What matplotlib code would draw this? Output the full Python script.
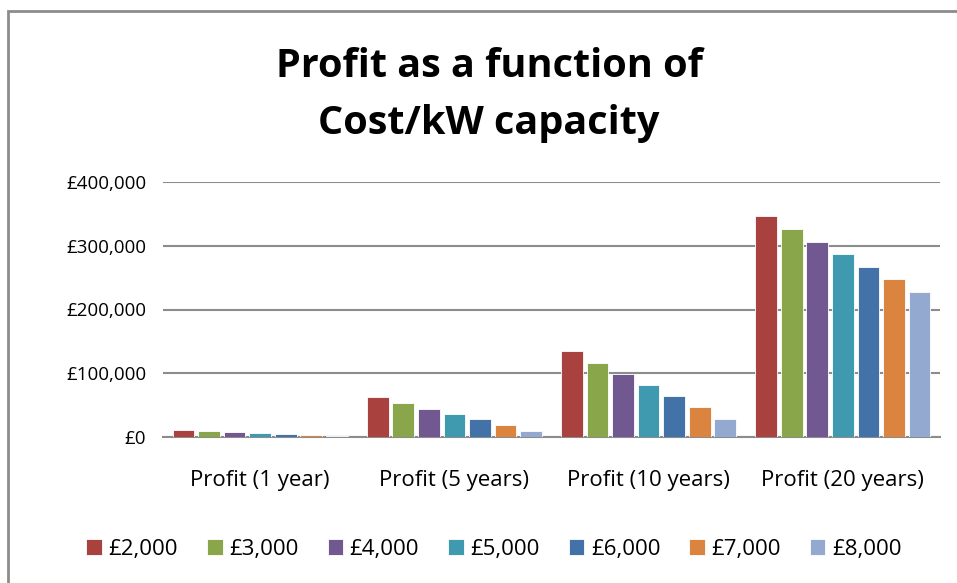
import numpy as np
import matplotlib.pyplot as plt
from matplotlib.patches import Rectangle

#---------data-----------
categories = ['Profit (1 year)', 'Profit (5 years)', 'Profit (10 years)', 'Profit (20 years)']
series = ['£2,000', '£3,000', '£4,000', '£5,000', '£6,000', '£7,000', '£8,000']
p2000 = [11000, 62000, 134500, 346500]
p3000 = [9500, 53500, 116500, 326000]
p4000 = [8000, 44500, 99500, 306000]
p5000 = [6500, 35500, 82000, 287000]
p6000 = [5000, 27500, 64500, 267000]
p7000 = [3500, 18500, 46500, 247500]
p8000 = [1500, 9500, 29000, 227000]
values = [p2000, p3000, p4000, p5000, p6000, p7000, p8000]
colors = ['#A9423F', '#8AA64B', '#715891', '#3F9AAF', '#4372A8', '#DB8440', '#93A9D0']

plt.rcParams['font.family'] = ['Open Sans', 'DejaVu Sans']

fig = plt.figure(figsize=(9.57, 5.83), dpi=100)
ax = fig.add_axes([163/957, 146/583, 777/957, 255/583])

#outer chart frame
fig.patches.append(Rectangle((8/957, -0.05), 1.2, (583-11)/583 + 0.05,
                             transform=fig.transFigure, fill=False,
                             edgecolor='#8C8C8C', linewidth=2))

x = np.arange(len(categories))
w = 0.92 / len(series)
for i, (name, vals) in enumerate(zip(series, values)):
    ax.bar(x - 0.46 + w * (i + 0.5), vals, width=w * 0.85, color=colors[i],
           edgecolor='white', linewidth=0.6, label=name, zorder=3)

ax.set_xlim(-0.5, len(categories) - 0.5)
ax.set_ylim(0, 400000)
ax.set_yticks(np.arange(0, 400001, 100000))
ax.set_yticklabels(['£{:,}'.format(v) for v in range(0, 400001, 100000)], fontsize=13.5)
ax.set_xticks(x)
ax.set_xticklabels(categories, fontsize=16)
ax.tick_params(axis='both', length=0)
ax.tick_params(axis='y', pad=12)
ax.tick_params(axis='x', pad=24)
ax.grid(axis='y', color='#8C8C8C', linewidth=1.5, zorder=0)
for s in ['left', 'right', 'top']:
    ax.spines[s].set_visible(False)
ax.spines['bottom'].set_color('#8C8C8C')
ax.spines['bottom'].set_linewidth(1.5)

fig.text(489/957, 1 - 95/583, 'Profit as a function of\nCost/kW capacity', ha='center', va='center',
         fontsize=28.5, fontweight='bold', linespacing=1.62)

fig.legend(loc='center', bbox_to_anchor=(494/957, 1 - 549/583), ncol=7, frameon=False,
           fontsize=16, handlelength=0.7, handleheight=0.7, handletextpad=0.3, columnspacing=1.3)

plt.savefig('out.png', dpi=100)
